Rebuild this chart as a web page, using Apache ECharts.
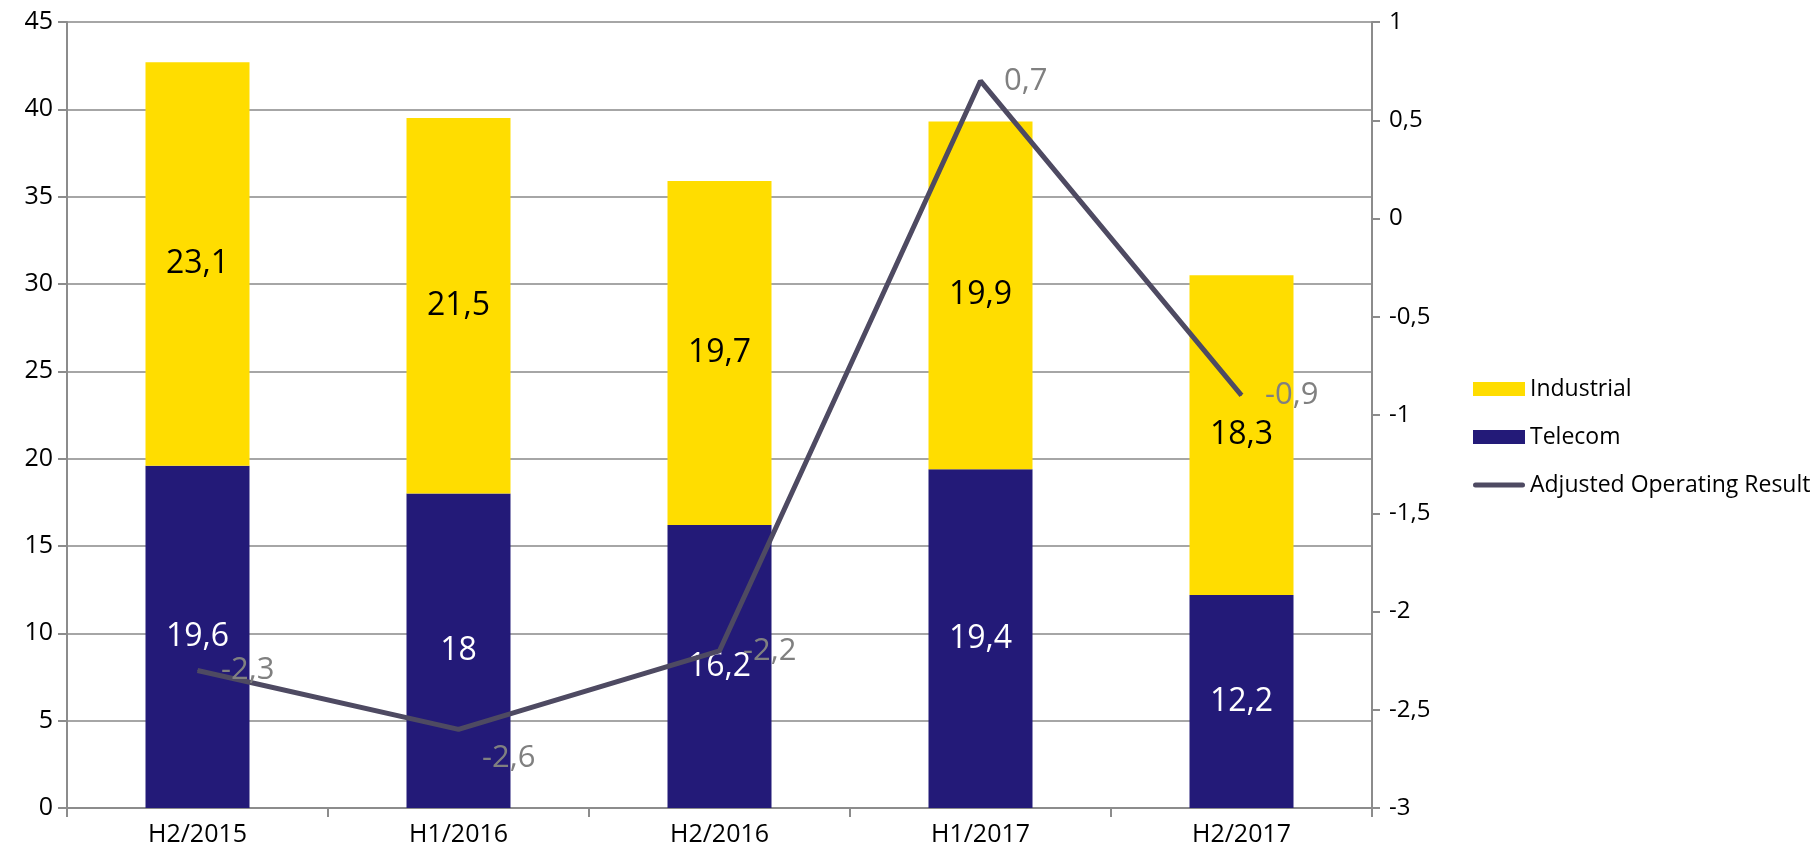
<!DOCTYPE html>
<html>
<head>
<meta charset="utf-8">
<script src="https://cdn.jsdelivr.net/npm/echarts@6/dist/echarts.min.js"></script>
<style>
html,body{margin:0;padding:0;background:#fff;}
#chart{width:1814px;height:855px;}
</style>
</head>
<body>
<div id="chart"></div>
<script>
const categories = ['H2/2015', 'H1/2016', 'H2/2016', 'H1/2017', 'H2/2017'];
const telecom = [19.6, 18, 16.2, 19.4, 12.2];
const industrial = [23.1, 21.5, 19.7, 19.9, 18.3];
const adjustedResult = [-2.3, -2.6, -2.2, 0.7, -0.9];
const leftTicks = {min: 0, max: 45, interval: 5};
const rightTicks = {min: -3, max: 1, interval: 0.5};

const FONT = '"Open Sans", "Noto Sans", sans-serif';
const comma = v => String(v).replace('.', ',');
const axisGrey = '#8C8C8C';

const lineData = adjustedResult.map((v, i) => {
  if (i === 1) return {value: v, label: {offset: [0, 29]}};
  return v;
});

const chart = echarts.init(document.getElementById('chart'), null, {renderer: 'canvas'});
chart.setOption({
  animation: false,
  backgroundColor: '#fff',
  textStyle: {fontFamily: FONT},
  grid: {left: 67, right: 442, top: 22, bottom: 47, containLabel: false},
  legend: {
    orient: 'vertical',
    left: 1468,
    top: 372,
    itemWidth: 52,
    itemHeight: 14,
    itemGap: 24,
    textStyle: {fontFamily: FONT, fontSize: 23, color: '#000', lineHeight: 24},
    data: [
      {name: 'Industrial', icon: 'rect'},
      {name: 'Telecom', icon: 'rect'},
      {name: 'Adjusted Operating Result', icon: 'path://M2.5,0 L49.5,0 A2.5,2.5 0 0 1 49.5,5 L2.5,5 A2.5,2.5 0 0 1 2.5,0 Z'}
    ]
  },
  xAxis: {
    type: 'category',
    data: categories,
    boundaryGap: true,
    axisLine: {show: true, lineStyle: {color: axisGrey, width: 2}},
    axisTick: {show: true, alignWithLabel: false, length: 9, lineStyle: {color: axisGrey, width: 2}},
    axisLabel: {fontFamily: FONT, fontSize: 25, color: '#000', margin: 14}
  },
  yAxis: [
    {
      type: 'value',
      min: leftTicks.min, max: leftTicks.max, interval: leftTicks.interval,
      axisLine: {show: true, lineStyle: {color: axisGrey, width: 2}},
      axisTick: {show: true, length: 9, lineStyle: {color: axisGrey, width: 2}},
      splitLine: {show: true, lineStyle: {color: '#A6A6A6', width: 2}},
      axisLabel: {fontFamily: FONT, fontSize: 25, color: '#000', margin: 14}
    },
    {
      type: 'value',
      position: 'right',
      min: rightTicks.min, max: rightTicks.max, interval: rightTicks.interval,
      axisLine: {show: true, lineStyle: {color: axisGrey, width: 2}},
      axisTick: {show: true, length: 8, lineStyle: {color: axisGrey, width: 2}},
      splitLine: {show: false},
      axisLabel: {fontFamily: FONT, fontSize: 24, color: '#000', margin: 17, formatter: v => comma(v)}
    }
  ],
  series: [
    {
      name: 'Telecom',
      type: 'bar',
      stack: 'rev',
      barWidth: 104,
      data: telecom,
      itemStyle: {color: '#231A78'},
      label: {show: true, position: 'inside', color: '#fff', fontFamily: FONT, fontSize: 32, formatter: p => comma(p.value)}
    },
    {
      name: 'Industrial',
      type: 'bar',
      stack: 'rev',
      barWidth: 104,
      data: industrial,
      itemStyle: {color: '#FFDD00'},
      label: {show: true, position: 'inside', color: '#000', fontFamily: FONT, fontSize: 32, formatter: p => comma(p.value)}
    },
    {
      name: 'Adjusted Operating Result',
      type: 'line',
      yAxisIndex: 1,
      data: lineData,
      symbol: 'circle',
      symbolSize: 1,
      z: 5,
      itemStyle: {color: '#4E4A62'},
      lineStyle: {color: '#4E4A62', width: 5},
      label: {show: true, position: 'right', distance: 23, color: '#808080', fontFamily: FONT, fontSize: 31, formatter: p => comma(p.value)}
    }
  ]
});
</script>
</body>
</html>
